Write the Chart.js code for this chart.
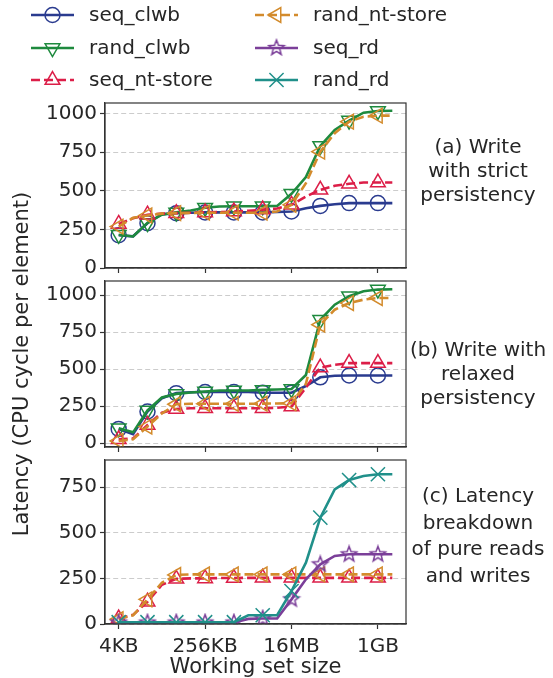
<!DOCTYPE html>
<html>
<head>
<meta charset="utf-8">
<script src="https://cdn.jsdelivr.net/npm/chart.js@4.4.0/dist/chart.umd.min.js"></script>
<style>
  html, body { margin: 0; padding: 0; background: #fff; }
  #wrap { position: relative; width: 553px; height: 678px; }
  #wrap canvas { position: absolute; left: 0; top: 0; }
</style>
</head>
<body>
<div id="wrap">
  <canvas id="pa" width="553" height="678"></canvas>
  <canvas id="pb" width="553" height="678"></canvas>
  <canvas id="pc" width="553" height="678"></canvas>
</div>
<script>
// working set sizes in KB (one point per doubling)
const sizesKB = [4, 8, 16, 32, 64, 128, 256, 512, 1024, 2048, 4096, 8192,
  16384, 32768, 65536, 131072, 262144, 524288, 1048576, 2097152];
const xTickValues = [4, 256, 16384, 1048576];
const xTickLabels = ['4KB', '256KB', '16MB', '1GB'];
const yTicksWrite = [0, 250, 500, 750, 1000];
const yTicksRead = [0, 250, 500, 750];

// (a) write with strict persistency
const aSeqClwb   = [212, 205, 290, 348, 355, 358, 360, 360, 360, 360, 360, 362, 366, 387, 402, 413, 420, 420, 420, 420];
const aRandClwb  = [215, 204, 292, 345, 360, 372, 390, 398, 400, 400, 400, 402, 480, 588, 790, 893, 954, 1005, 1016, 1018];
const aSeqNt     = [285, 322, 345, 352, 355, 358, 360, 362, 365, 370, 378, 385, 409, 463, 506, 532, 545, 553, 553, 553];
const aRandNt    = [268, 325, 340, 352, 355, 356, 358, 358, 358, 358, 358, 366, 409, 549, 753, 872, 947, 979, 986, 986];

// (b) write with relaxed persistency
const bSeqClwb   = [95, 60, 213, 303, 337, 343, 345, 345, 345, 345, 340, 340, 340, 385, 444, 455, 456, 456, 456, 456];
const bRandClwb  = [100, 72, 220, 308, 332, 341, 348, 355, 355, 355, 359, 362, 365, 460, 833, 935, 992, 1026, 1037, 1039];
const bSeqNt     = [25, 30, 122, 205, 230, 235, 235, 235, 235, 235, 235, 238, 246, 375, 510, 528, 540, 540, 540, 540];
const bRandNt    = [14, 25, 111, 200, 262, 265, 265, 265, 265, 265, 266, 267, 269, 400, 800, 901, 946, 969, 980, 980];

// (c) pure reads and writes
const cSeqNt     = [30, 50, 122, 215, 248, 250, 250, 252, 252, 253, 253, 253, 253, 253, 253, 253, 253, 253, 253, 253];
const cRandNt    = [26, 48, 135, 226, 269, 272, 272, 272, 272, 272, 272, 272, 272, 272, 272, 272, 272, 272, 272, 272];
const cSeqRd     = [8, 8, 8, 8, 8, 8, 8, 8, 8, 28, 30, 30, 135, 245, 327, 373, 382, 382, 382, 382];
const cRandRd    = [10, 10, 10, 10, 10, 10, 10, 10, 10, 48, 48, 48, 181, 336, 583, 738, 789, 811, 821, 821];

const FONT = 'DejaVu Sans';
const TEXT = '#262626';

function starImage(color) {
  const c = document.createElement('canvas');
  c.width = 20; c.height = 20;
  const g = c.getContext('2d');
  g.beginPath();
  for (let i = 0; i < 10; i++) {
    const r = i % 2 === 0 ? 8 : 3.4;
    const a = -Math.PI / 2 + i * Math.PI / 5;
    g.lineTo(10 + r * Math.cos(a), 10 + r * Math.sin(a));
  }
  g.closePath();
  g.strokeStyle = color;
  g.lineWidth = 1.5;
  g.stroke();
  return c;
}

const styles = {
  seq_clwb:        { color: '#2a3b8f', pointStyle: 'circle',   rotation: 0,   radius: 7.5, dash: [] },
  rand_clwb:       { color: '#1e8a3e', pointStyle: 'triangle', rotation: 180, radius: 8.5, dash: [] },
  'seq_nt-store':  { color: '#dc1e48', pointStyle: 'triangle', rotation: 0,   radius: 8.5, dash: [9, 4] },
  'rand_nt-store': { color: '#d38b2c', pointStyle: 'triangle', rotation: 270, radius: 8.5, dash: [9, 4] },
  seq_rd:          { color: '#7b3f99', pointStyle: null,       rotation: 0,   radius: 8,   dash: [] },
  rand_rd:         { color: '#20908a', pointStyle: 'crossRot', rotation: 0,   radius: 10,  dash: [] }
};
styles.seq_rd.pointStyle = starImage(styles.seq_rd.color);

const legendOrder = ['seq_clwb', 'rand_clwb', 'seq_nt-store', 'rand_nt-store', 'seq_rd', 'rand_rd'];

function makeDataset(name, values, order) {
  const s = styles[name];
  return {
    label: name,
    data: values.map((v, i) => ({ x: sizesKB[i], y: v })),
    borderColor: s.color,
    borderWidth: 2.6,
    borderDash: s.dash,
    tension: 0,
    fill: false,
    pointStyle: s.pointStyle,
    rotation: s.rotation,
    pointRadius: ctx => (ctx.dataIndex % 2 === 0 ? s.radius : 0),
    pointBorderColor: s.color,
    pointBackgroundColor: 'rgba(0,0,0,0)',
    pointBorderWidth: 1.5,
    order: order
  };
}

const framePlugin = {
  id: 'frame',
  afterDraw(chart) {
    const { ctx, chartArea: a } = chart;
    ctx.save();
    ctx.strokeStyle = '#333';
    ctx.lineWidth = 1.2;
    ctx.strokeRect(a.left, a.top, a.right - a.left, a.bottom - a.top);
    ctx.restore();
  }
};

const notePlugin = {
  id: 'panelNote',
  afterDraw(chart, args, opts) {
    if (!opts || !opts.lines) return;
    const ctx = chart.ctx;
    ctx.save();
    ctx.fillStyle = TEXT;
    ctx.font = '20px "' + FONT + '"';
    ctx.textAlign = 'center';
    ctx.textBaseline = 'middle';
    opts.lines.forEach((t, i) => ctx.fillText(t, 478, opts.y + i * opts.step));
    ctx.restore();
  }
};

const legendPlugin = {
  id: 'topLegend',
  afterDraw(chart) {
    const ctx = chart.ctx;
    const colX = [31, 255];
    const rowY = [15, 48, 80];
    legendOrder.forEach((name, i) => {
      const s = styles[name];
      const x0 = colX[Math.floor(i / 3)];
      const y = rowY[i % 3];
      ctx.save();
      ctx.strokeStyle = s.color;
      ctx.lineWidth = 2.6;
      ctx.setLineDash(s.dash);
      ctx.beginPath();
      ctx.moveTo(x0, y);
      ctx.lineTo(x0 + 43, y);
      ctx.stroke();
      ctx.setLineDash([]);
      ctx.lineWidth = 1.5;
      ctx.fillStyle = 'rgba(0,0,0,0)';
      Chart.helpers.drawPoint(ctx, {
        pointStyle: s.pointStyle, radius: s.radius, rotation: s.rotation, borderWidth: 1.5
      }, x0 + 21.5, y);
      ctx.fillStyle = TEXT;
      ctx.font = '20px "' + FONT + '"';
      ctx.textAlign = 'left';
      ctx.textBaseline = 'middle';
      ctx.fillText(name, x0 + 58, y + 1);
      ctx.restore();
    });
  }
};

function panel(id, datasets, yMin, yMax, yTicks, cfg) {
  return new Chart(document.getElementById(id), {
    type: 'line',
    data: { datasets: datasets },
    options: {
      responsive: false,
      animation: false,
      events: [],
      devicePixelRatio: 1,
      layout: { padding: { top: cfg.top, bottom: cfg.bottom, left: 0, right: 147 } },
      plugins: {
        legend: { display: false },
        tooltip: { enabled: false },
        panelNote: cfg.note
      },
      scales: {
        x: {
          type: 'logarithmic',
          min: 4 / Math.pow(2, 0.95),
          max: 2097152 * Math.pow(2, 0.95),
          afterBuildTicks: s => { s.ticks = xTickValues.map(v => ({ value: v })); },
          afterFit: s => { s.height = cfg.xHeight; },
          ticks: {
            display: cfg.xLabels,
            autoSkip: false,
            maxRotation: 0,
            padding: 6,
            color: TEXT,
            font: { family: FONT, size: 20 },
            callback: (v, i) => xTickLabels[i]
          },
          grid: { drawOnChartArea: false, drawTicks: true, tickLength: 5, tickColor: '#333', tickWidth: 1.2 },
          border: { color: '#333', width: 1.2 },
          title: {
            display: cfg.xLabels,
            text: 'Working set size',
            color: TEXT,
            font: { family: FONT, size: 21, lineHeight: 1 },
            padding: { top: 0, bottom: 0 }
          }
        },
        y: {
          min: yMin,
          max: yMax,
          afterBuildTicks: s => { s.ticks = yTicks.map(v => ({ value: v })); },
          afterFit: s => { s.width = 105; },
          ticks: { color: TEXT, padding: 3, font: { family: FONT, size: 20 }, callback: v => String(v) },
          grid: { color: '#cccccc', lineWidth: 1, tickLength: 5, tickColor: '#333', tickWidth: 1.2, tickBorderDash: [] },
          border: { color: '#333', width: 1.2, dash: [5, 3] },
          title: {
            display: !!cfg.yTitle,
            text: cfg.yTitle || '',
            color: TEXT,
            font: { family: FONT, size: 21 },
            padding: { top: 10, bottom: 0 }
          }
        }
      }
    },
    plugins: cfg.extra ? [framePlugin, notePlugin, cfg.extra] : [framePlugin, notePlugin]
  });
}

panel('pa', [
  makeDataset('seq_clwb', aSeqClwb, 4),
  makeDataset('rand_clwb', aRandClwb, 3),
  makeDataset('seq_nt-store', aSeqNt, 2),
  makeDataset('rand_nt-store', aRandNt, 1)
], 0, 1068, yTicksWrite, {
  top: 103, bottom: 400, xHeight: 10, xLabels: false,
  note: { lines: ['(a) Write', 'with strict', 'persistency'], y: 148, step: 24 },
  extra: legendPlugin
});

panel('pb', [
  makeDataset('seq_clwb', bSeqClwb, 4),
  makeDataset('rand_clwb', bRandClwb, 3),
  makeDataset('seq_nt-store', bSeqNt, 2),
  makeDataset('rand_nt-store', bRandNt, 1)
], -27, 1095, yTicksWrite, {
  top: 281, bottom: 221, xHeight: 10, xLabels: false,
  yTitle: 'Latency (CPU cycle per element)',
  note: { lines: ['(b) Write with', 'relaxed', 'persistency'], y: 351, step: 24 }
});

panel('pc', [
  makeDataset('seq_nt-store', cSeqNt, 4),
  makeDataset('rand_nt-store', cRandNt, 3),
  makeDataset('seq_rd', cSeqRd, 2),
  makeDataset('rand_rd', cRandRd, 1)
], 0, 899, yTicksRead, {
  top: 460, bottom: 0, xHeight: 54, xLabels: true,
  note: { lines: ['(c) Latency', 'breakdown', 'of pure reads', 'and writes'], y: 497, step: 26.5 }
});
</script>
</body>
</html>
